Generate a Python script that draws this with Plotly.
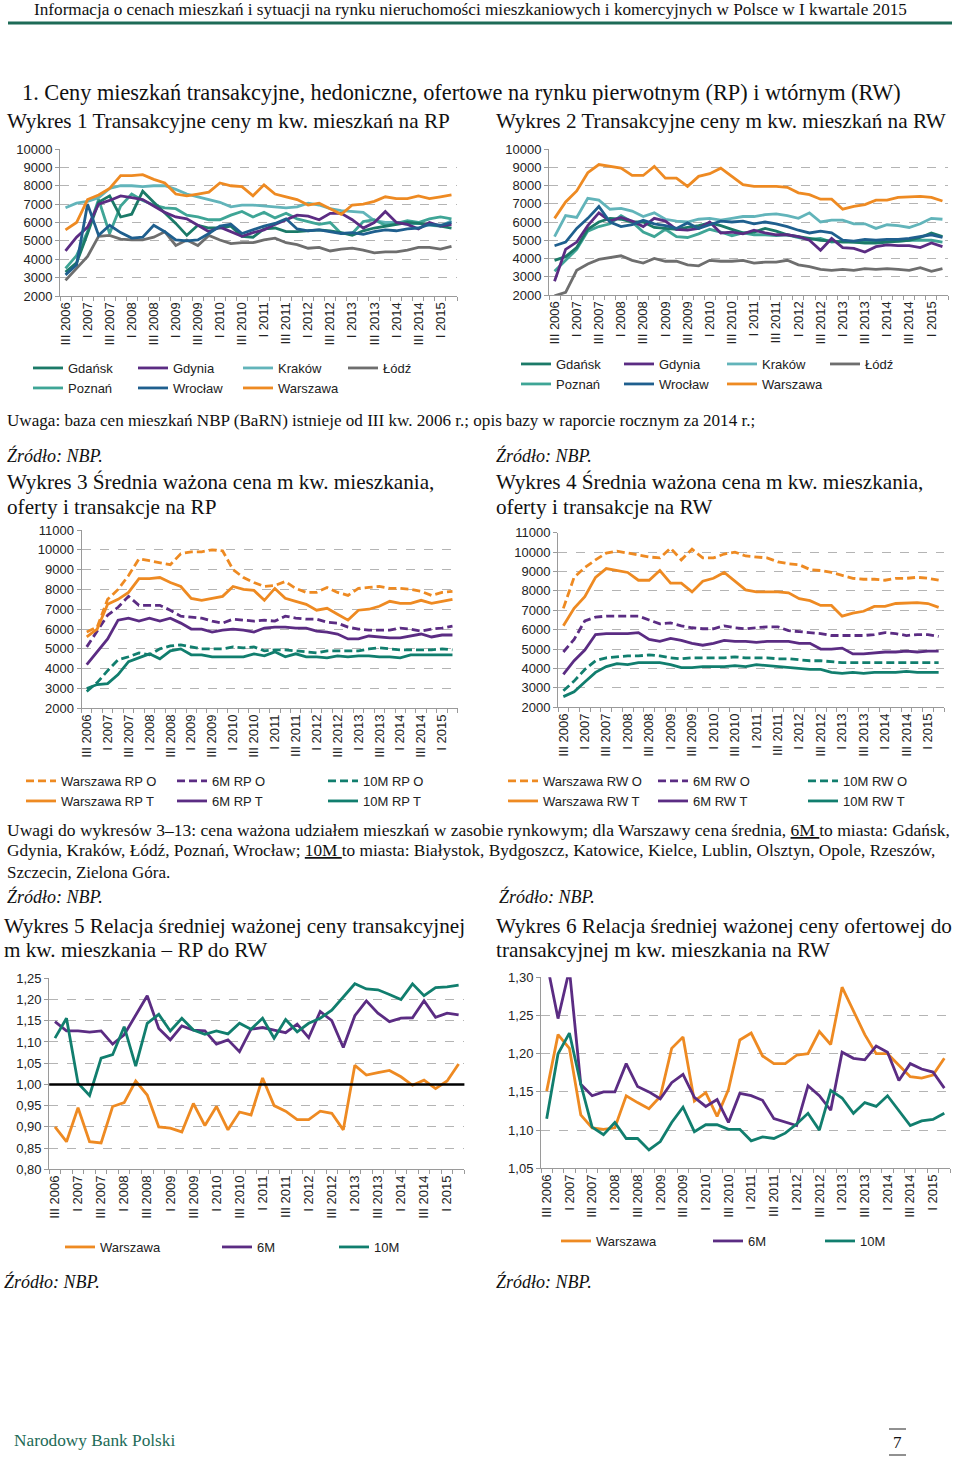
import plotly.graph_objects as go

W, H = 960, 1457

# ---------------- DATA ----------------
quarters = ["III 2006", "IV 2006",
            "I 2007", "II 2007", "III 2007", "IV 2007",
            "I 2008", "II 2008", "III 2008", "IV 2008",
            "I 2009", "II 2009", "III 2009", "IV 2009",
            "I 2010", "II 2010", "III 2010", "IV 2010",
            "I 2011", "II 2011", "III 2011", "IV 2011",
            "I 2012", "II 2012", "III 2012", "IV 2012",
            "I 2013", "II 2013", "III 2013", "IV 2013",
            "I 2014", "II 2014", "III 2014", "IV 2014",
            "I 2015", "II 2015"]
tick_labels = ["III 2006", "I 2007", "III 2007", "I 2008", "III 2008", "I 2009",
               "III 2009", "I 2010", "III 2010", "I 2011", "III 2011", "I 2012",
               "III 2012", "I 2013", "III 2013", "I 2014", "III 2014", "I 2015"]

# Wykres 1 - transaction prices, primary market (RP)
rp_gdansk = [3300, 3800, 5400, 7100, 7450, 6300, 6450, 7700, 7100, 6550, 5950, 5300,
             5850, 5700, 5700, 5800, 5250, 5200, 5650, 5700, 5500, 5500, 5550, 5600,
             5550, 5450, 5300, 5550, 5700, 5800, 5900, 6000, 5950, 5900, 5800, 5700]
rp_gdynia = [4450, 5200, 5750, 7000, 7200, 7450, 7350, 7250, 6900, 6550, 6300, 6200,
             5850, 5500, 5750, 5500, 5250, 5450, 5600, 5900, 6150, 6400, 6350, 6150,
             6500, 6500, 6150, 5700, 6000, 6600, 6000, 5900, 5650, 6000, 5800, 5900]
rp_krakow = [6800, 7050, 7150, 7350, 7850, 8000, 8000, 7950, 8000, 8000, 7800, 7550,
             7400, 7250, 7100, 6850, 6950, 6950, 6900, 6850, 6800, 6850, 7050, 6950,
             6750, 6650, 6600, 6550, 6100, 6000, 6000, 5900, 5950, 5850, 5800, 6100]
rp_lodz = [2850, 3500, 4150, 5250, 5300, 5100, 5050, 5050, 5200, 5500, 4750, 5050,
           4750, 5300, 5050, 4850, 4900, 4900, 5050, 5150, 4900, 4800, 4600, 4650,
           4450, 4550, 4600, 4500, 4350, 4400, 4400, 4500, 4650, 4650, 4550, 4700]
rp_poznan = [3500, 4200, 5500, 7250, 5400, 6900, 7550, 7200, 6950, 6800, 6750, 6400,
             6300, 6150, 6150, 6400, 6600, 6300, 6550, 6250, 6500, 6200, 6050, 5900,
             6000, 5400, 5400, 6050, 6150, 5850, 5950, 6100, 6000, 6200, 6300, 6200]
rp_wroclaw = [3150, 3700, 7000, 5300, 5850, 5450, 5150, 5200, 5850, 5500, 5050, 5000,
              5050, 5400, 5800, 5900, 5400, 5600, 5800, 5950, 6200, 5650, 5550, 5600,
              5500, 5400, 5450, 5350, 5500, 5600, 5550, 5650, 5700, 5900, 5850, 6000]
rp_warszawa = [5600, 6000, 7250, 7500, 7850, 8550, 8550, 8600, 8350, 8150, 7550, 7450,
               7550, 7650, 8150, 8000, 7950, 7450, 8050, 7550, 7400, 7250, 6950, 7050,
               6750, 6450, 6950, 7000, 7150, 7400, 7300, 7300, 7450, 7300, 7400, 7500]

# Wykres 2 - transaction prices, secondary market (RW)
rw_gdansk = [3900, 4100, 4600, 5600, 6000, 6200, 6150, 6000, 6000, 5700, 5650, 5600,
             5700, 5800, 5950, 5800, 5600, 5400, 5450, 5650, 5500, 5300, 5200, 5100,
             5000, 4950, 4900, 4900, 4850, 4850, 4900, 4950, 5000, 5150, 5400, 5200]
rw_gdynia = [2750, 4500, 4900, 5800, 6500, 6050, 6250, 6050, 5750, 6200, 6050, 5600,
             5550, 5650, 6000, 5400, 5450, 5350, 5550, 5400, 5300, 5300, 5200, 5000,
             4450, 5100, 4600, 4550, 4350, 4650, 4750, 4700, 4700, 4600, 4850, 4650]
rw_krakow = [5200, 6350, 6250, 7300, 7200, 6700, 6750, 6600, 6300, 6500, 6150, 6050,
             6000, 6150, 6200, 6100, 6200, 6300, 6300, 6400, 6450, 6350, 6200, 6500,
             6000, 6100, 6100, 5900, 5900, 5650, 5850, 5800, 5700, 5900, 6200, 6150]
rw_lodz = [1950, 2150, 3350, 3700, 3950, 4050, 4150, 3900, 3750, 4000, 3850, 3850,
           3650, 3600, 3900, 3850, 3850, 3900, 3750, 3800, 3800, 3900, 3650, 3550,
           3400, 3350, 3400, 3350, 3450, 3400, 3450, 3400, 3350, 3500, 3300, 3450]
rw_poznan = [3300, 3900, 4500, 5500, 5750, 5900, 6350, 6000, 5450, 5200, 5600, 5200,
             5150, 5350, 5600, 5450, 5250, 5400, 5300, 5300, 5250, 5300, 5150, 5050,
             5100, 4900, 4950, 4900, 4900, 4900, 5000, 4950, 5000, 5000, 5000, 4900]
rw_wroclaw = [4700, 4900, 5650, 6200, 6850, 6000, 5750, 5850, 6100, 5900, 5800, 5650,
              5950, 5650, 5850, 6050, 6000, 6050, 5900, 6000, 5900, 5750, 5550, 5400,
              5500, 5400, 5000, 4950, 5050, 5000, 5050, 5050, 5100, 5200, 5300, 5150]
rw_warszawa = [6200, 7100, 7700, 8700, 9150, 9050, 8950, 8550, 8550, 9050, 8400, 8400,
               7950, 8500, 8650, 8950, 8500, 8050, 7950, 7950, 7950, 7900, 7600, 7500,
               7250, 7250, 6700, 6850, 6950, 7200, 7200, 7350, 7380, 7400, 7350, 7150]

# Wykres 3 - weighted average price, offers (O) and transactions (T), RP
rp_war_o = [5850, 6100, 7500, 8000, 8700, 9550, 9450, 9350, 9250, 9800, 9900, 9900,
            10000, 9950, 9000, 8600, 8350, 8150, 8200, 8400, 8050, 7850, 7850, 8100,
            7850, 7700, 8050, 8100, 8150, 8050, 8050, 8000, 7900, 7700, 7850, 7900]
rp_war_t = rp_warszawa
rp_6m_o = [5100, 5900, 6700, 7100, 7650, 7200, 7200, 7200, 6950, 6650, 6600, 6550,
           6400, 6300, 6500, 6450, 6400, 6450, 6400, 6650, 6550, 6500, 6500, 6350,
           6300, 6100, 6000, 5950, 5950, 5950, 6050, 6000, 5900, 6000, 6050, 6150]
rp_6m_t = [4200, 4850, 5500, 6450, 6550, 6400, 6550, 6400, 6550, 6300, 6000, 6000,
           5850, 5950, 6000, 5950, 5850, 6050, 6100, 6100, 6050, 6050, 5900, 5850,
           5750, 5500, 5500, 5650, 5600, 5550, 5550, 5650, 5750, 5600, 5700, 5700]
rp_10m_o = [2850, 3300, 3900, 4450, 4600, 4800, 4700, 5000, 5150, 5200, 5100, 5000,
            5000, 5000, 5100, 5050, 5100, 4900, 4950, 4950, 4900, 4850, 4800, 4900,
            4900, 4900, 4900, 5000, 5050, 5000, 4950, 4950, 4950, 4950, 5000, 4950]
rp_10m_t = [3000, 3200, 3250, 3700, 4350, 4550, 4750, 4500, 4900, 5000, 4700, 4700,
            4600, 4600, 4600, 4600, 4750, 4650, 4850, 4600, 4750, 4600, 4600, 4550,
            4650, 4600, 4650, 4650, 4600, 4600, 4550, 4700, 4700, 4700, 4700, 4700]

# Wykres 4 - weighted average price, offers (O) and transactions (T), RW
rw_war_o = [7100, 8700, 9200, 9600, 9950, 10050, 9950, 9850, 9750, 9700, 10200, 9600,
            10150, 9700, 9700, 9900, 10000, 9800, 9750, 9700, 9500, 9400, 9350, 9100,
            9050, 8950, 8800, 8650, 8600, 8600, 8550, 8650, 8650, 8700, 8650, 8550]
rw_war_t = rw_warszawa
rw_6m_o = [4850, 5500, 6450, 6650, 6700, 6700, 6700, 6700, 6500, 6300, 6350, 6200,
           6100, 6050, 6050, 6200, 6100, 6050, 6100, 6150, 6150, 5950, 5900, 5850,
           5800, 5700, 5700, 5700, 5700, 5750, 5850, 5800, 5700, 5750, 5750, 5650]
rw_6m_t = [3700, 4400, 4950, 5750, 5800, 5800, 5800, 5850, 5500, 5400, 5550, 5450,
           5300, 5200, 5300, 5450, 5400, 5400, 5350, 5400, 5400, 5400, 5300, 5300,
           5000, 5000, 5050, 4750, 4750, 4800, 4850, 4850, 4900, 4850, 4900, 4900]
rw_10m_o = [2850, 3350, 3950, 4400, 4550, 4600, 4650, 4650, 4700, 4650, 4550, 4500,
            4550, 4550, 4550, 4550, 4600, 4550, 4550, 4550, 4500, 4500, 4450, 4400,
            4400, 4350, 4300, 4300, 4300, 4300, 4300, 4300, 4300, 4280, 4280, 4300]
rw_10m_t = [2550, 2800, 3300, 3800, 4100, 4250, 4200, 4300, 4300, 4300, 4200, 4050,
            4050, 4100, 4100, 4100, 4150, 4100, 4200, 4150, 4100, 4050, 4000, 3950,
            3950, 3800, 3750, 3800, 3750, 3800, 3800, 3800, 3850, 3800, 3800, 3800]

# Wykres 5 - ratio of transaction price RP / RW
r5_warszawa = [0.900, 0.865, 0.945, 0.865, 0.862, 0.948, 0.957, 1.008, 0.975, 0.900,
               0.897, 0.888, 0.955, 0.903, 0.948, 0.893, 0.935, 0.928, 1.015, 0.950,
               0.937, 0.917, 0.917, 0.937, 0.932, 0.893, 1.045, 1.022, 1.028, 1.033,
               1.018, 0.998, 1.010, 0.990, 1.008, 1.048]
r5_6m = [1.148, 1.126, 1.126, 1.123, 1.126, 1.095, 1.117, 1.164, 1.209, 1.132,
         1.105, 1.138, 1.128, 1.126, 1.095, 1.105, 1.077, 1.130, 1.134, 1.128,
         1.122, 1.142, 1.110, 1.172, 1.150, 1.087, 1.162, 1.197, 1.168, 1.148,
         1.156, 1.157, 1.197, 1.158, 1.168, 1.164]
r5_10m = [1.109, 1.156, 1.003, 0.974, 1.062, 1.070, 1.136, 1.043, 1.144, 1.165,
          1.126, 1.156, 1.128, 1.118, 1.126, 1.119, 1.144, 1.130, 1.156, 1.109,
          1.153, 1.124, 1.144, 1.156, 1.175, 1.207, 1.237, 1.225, 1.223, 1.212,
          1.200, 1.237, 1.209, 1.228, 1.230, 1.234]
r5_reference = 1.0

# Wykres 6 - ratio of offer price to transaction price, RW
r6_warszawa = [1.151, 1.225, 1.207, 1.120, 1.103, 1.101, 1.103, 1.145, 1.136, 1.128,
               1.144, 1.207, 1.222, 1.138, 1.149, 1.118, 1.153, 1.218, 1.227, 1.197,
               1.187, 1.187, 1.198, 1.200, 1.229, 1.212, 1.287, 1.255, 1.225, 1.200,
               1.200, 1.185, 1.170, 1.168, 1.172, 1.194]
r6_6m = [1.320, 1.246, 1.310, 1.160, 1.145, 1.150, 1.150, 1.187, 1.157, 1.150,
         1.141, 1.162, 1.173, 1.143, 1.131, 1.140, 1.110, 1.148, 1.145, 1.139,
         1.115, 1.110, 1.106, 1.158, 1.145, 1.126, 1.202, 1.194, 1.192, 1.210,
         1.202, 1.165, 1.187, 1.180, 1.176, 1.155]
r6_10m = [1.115, 1.200, 1.227, 1.160, 1.104, 1.094, 1.110, 1.089, 1.089, 1.074,
          1.085, 1.110, 1.130, 1.098, 1.107, 1.107, 1.101, 1.101, 1.086, 1.091,
          1.089, 1.096, 1.108, 1.122, 1.100, 1.152, 1.142, 1.122, 1.136, 1.131,
          1.145, 1.125, 1.106, 1.112, 1.114, 1.122]

# ---------------- STYLE ----------------
C_WAR = "#EE8A22"
C_PUR = "#5B2C83"
C_GDA = "#1B7A68"
C_KRA = "#62B4BA"
C_LOD = "#6E6E6E"
C_POZ = "#3FA596"
C_WRO = "#1F5F8E"
C_10M = "#117E6E"
SANS = "Liberation Sans"
SERIF = "Liberation Serif"
LW = 2.8
DASH = "8px,4px"

idx = list(range(len(quarters)))
tickpos = [quarters.index(t) for t in tick_labels]


def px_x(p):
    return p / W


def px_y(p):
    return 1 - p / H


fig = go.Figure()

# chart domains in pixel coordinates (left, right, top, bottom)
charts = {
    1: (60, 457, 149, 296, [2000, 10000], 1000, "d"),
    2: (549, 948, 149, 295, [2000, 10000], 1000, "d"),
    3: (81.5, 457.7, 530, 708.3, [2000, 11000], 1000, "d"),
    4: (558, 944, 532.7, 707.3, [2000, 11000], 1000, "d"),
    5: (49.2, 464.4, 978.3, 1169.3, [0.80, 1.25], 0.05, ".2f"),
    6: (541, 950, 977.3, 1168.3, [1.05, 1.30], 0.05, ".2f"),
}

layout_axes = {}
for k, (l, r, t, b, yr, dt, fmt) in charts.items():
    xa = "xaxis" if k == 1 else f"xaxis{k}"
    ya = "yaxis" if k == 1 else f"yaxis{k}"
    layout_axes[xa] = dict(
        domain=[px_x(l), px_x(r)], anchor="y" if k == 1 else f"y{k}",
        range=[-0.5, len(quarters) - 0.5], showgrid=False, zeroline=False,
        showline=True, linecolor="#9A9A9A", linewidth=1,
        tickmode="array", tickvals=tickpos, ticktext=tick_labels,
        tickangle=-90, ticks="", tickfont=dict(family=SANS, size=13, color="#222"),
        minor=dict(tickmode="linear", tick0=-0.5, dtick=1, ticks="outside",
                   ticklen=4, tickcolor="#9A9A9A", showgrid=False),
        fixedrange=True,
    )
    layout_axes[ya] = dict(
        domain=[px_y(b), px_y(t)], anchor="x" if k == 1 else f"x{k}",
        range=yr, dtick=dt, tick0=yr[0], tickformat=fmt,
        showgrid=True, gridcolor="#B4B4B4", griddash="dash", gridwidth=1,
        zeroline=False, showline=True, linecolor="#9A9A9A", linewidth=1,
        ticks="outside", ticklen=4, tickcolor="#9A9A9A",
        tickfont=dict(family=SANS, size=13, color="#222"), fixedrange=True,
    )


def add(k, y, name, color, legend, rank, dash=None):
    fig.add_trace(go.Scatter(
        x=idx, y=y, name=name, mode="lines",
        line=dict(color=color, width=LW, dash=dash),
        xaxis="x" if k == 1 else f"x{k}", yaxis="y" if k == 1 else f"y{k}",
        legend=legend, legendrank=rank, hoverinfo="skip"))


# Wykres 1
add(1, rp_lodz, "Łódź", C_LOD, "legend", 4)
add(1, rp_krakow, "Kraków", C_KRA, "legend", 3)
add(1, rp_poznan, "Poznań", C_POZ, "legend2", 5)
add(1, rp_gdansk, "Gdańsk", C_GDA, "legend", 1)
add(1, rp_gdynia, "Gdynia", C_PUR, "legend", 2)
add(1, rp_wroclaw, "Wrocław", C_WRO, "legend2", 6)
add(1, rp_warszawa, "Warszawa", C_WAR, "legend2", 7)
# Wykres 2
add(2, rw_lodz, "Łódź", C_LOD, "legend3", 4)
add(2, rw_krakow, "Kraków", C_KRA, "legend3", 3)
add(2, rw_poznan, "Poznań", C_POZ, "legend4", 5)
add(2, rw_gdansk, "Gdańsk", C_GDA, "legend3", 1)
add(2, rw_gdynia, "Gdynia", C_PUR, "legend3", 2)
add(2, rw_wroclaw, "Wrocław", C_WRO, "legend4", 6)
add(2, rw_warszawa, "Warszawa", C_WAR, "legend4", 7)
# Wykres 3
add(3, rp_war_o, "Warszawa RP O", C_WAR, "legend5", 1, DASH)
add(3, rp_6m_o, "6M RP O", C_PUR, "legend5", 2, DASH)
add(3, rp_10m_o, "10M RP O", C_10M, "legend5", 3, DASH)
add(3, rp_war_t, "Warszawa RP T", C_WAR, "legend6", 4)
add(3, rp_6m_t, "6M RP T", C_PUR, "legend6", 5)
add(3, rp_10m_t, "10M RP T", C_10M, "legend6", 6)
# Wykres 4
add(4, rw_war_o, "Warszawa RW O", C_WAR, "legend7", 1, DASH)
add(4, rw_6m_o, "6M RW O", C_PUR, "legend7", 2, DASH)
add(4, rw_10m_o, "10M RW O", C_10M, "legend7", 3, DASH)
add(4, rw_war_t, "Warszawa RW T", C_WAR, "legend8", 4)
add(4, rw_6m_t, "6M RW T", C_PUR, "legend8", 5)
add(4, rw_10m_t, "10M RW T", C_10M, "legend8", 6)
# Wykres 5
add(5, r5_warszawa, "Warszawa", C_WAR, "legend9", 1)
add(5, r5_6m, "6M", C_PUR, "legend10", 2)
add(5, r5_10m, "10M", C_10M, "legend11", 3)
# Wykres 6
add(6, r6_warszawa, "Warszawa", C_WAR, "legend12", 1)
add(6, r6_6m, "6M", C_PUR, "legend13", 2)
add(6, r6_10m, "10M", C_10M, "legend14", 3)


def leg(x, y, ew=0):
    d = dict(orientation="h", x=px_x(x), y=px_y(y), xanchor="left", yanchor="middle",
             bgcolor="rgba(0,0,0,0)", font=dict(family=SANS, size=13, color="#222"),
             traceorder="normal", itemclick=False, itemdoubleclick=False)
    if ew:
        d.update(entrywidth=ew, entrywidthmode="pixels")
    return d


legends = {
    "legend": leg(28, 368, 60),
    "legend2": leg(28, 388, 60),
    "legend3": leg(516, 364, 58),
    "legend4": leg(516, 384, 58),
    "legend5": leg(21, 781, 106),
    "legend6": leg(21, 801, 106),
    "legend7": leg(503, 781, 105),
    "legend8": leg(503, 801, 105),
    "legend9": leg(60, 1247),
    "legend10": leg(217, 1247),
    "legend11": leg(334, 1247),
    "legend12": leg(556, 1241),
    "legend13": leg(708, 1241),
    "legend14": leg(820, 1241),
}

annotations = []


def txt(x, y, s, size, italic=False, color="#111", anchor="left", family=SERIF):
    if italic:
        s = "<i>" + s + "</i>"
    annotations.append(dict(
        x=px_x(x), y=px_y(y), xref="paper", yref="paper", text=s, showarrow=False,
        xanchor=anchor, yanchor="middle", align="left",
        font=dict(family=family, size=size, color=color)))


T = 21.2
txt(470, 10, "Informacja o cenach mieszkań i sytuacji na rynku nieruchomości mieszkaniowych i komercyjnych w Polsce w I kwartale 2015", 17.2, anchor="center")
txt(20, 92, "1. Ceny mieszkań transakcyjne, hedoniczne, ofertowe na rynku pierwotnym (RP) i wtórnym (RW)", 22.3)
txt(5, 121, "Wykres 1 Transakcyjne ceny m kw. mieszkań na RP", T)
txt(494, 121, "Wykres 2 Transakcyjne ceny m kw. mieszkań na RW", T)
txt(5, 420, "Uwaga: baza cen mieszkań NBP (BaRN) istnieje od III kw. 2006 r.; opis bazy w raporcie rocznym za 2014 r.;", 17.1)
txt(5, 455, "Źródło: NBP.", 18, italic=True)
txt(494, 455, "Źródło: NBP.", 18, italic=True)
txt(5, 482, "Wykres 3 Średnia ważona cena m kw. mieszkania,", T)
txt(5, 507, "oferty i transakcje na RP", T)
txt(494, 482, "Wykres 4 Średnia ważona cena m kw. mieszkania,", T)
txt(494, 507, "oferty i transakcje na RW", T)
txt(5, 830, "Uwagi do wykresów 3–13: cena ważona udziałem mieszkań w zasobie rynkowym; dla Warszawy cena średnia, <u>6M </u>to miasta: Gdańsk,", 17.5)
txt(5, 851, "Gdynia, Kraków, Łódź, Poznań, Wrocław; <u>10M </u>to miasta: Białystok, Bydgoszcz, Katowice, Kielce, Lublin, Olsztyn, Opole, Rzeszów,", 17.3)
txt(5, 872, "Szczecin, Zielona Góra.", 17)
txt(5, 896, "Źródło: NBP.", 18, italic=True)
txt(497, 896, "Źródło: NBP.", 18, italic=True)
txt(2, 926, "Wykres 5 Relacja średniej ważonej ceny transakcyjnej", T)
txt(2, 950, "m kw. mieszkania – RP do RW", T)
txt(494, 926, "Wykres 6 Relacja średniej ważonej ceny ofertowej do", T)
txt(494, 950, "transakcyjnej m kw. mieszkania na RW", T)
txt(2, 1281, "Źródło: NBP.", 18, italic=True)
txt(494, 1281, "Źródło: NBP.", 18, italic=True)
txt(12, 1440, "Narodowy Bank Polski", 17.3, color="#1D6B57")
txt(897, 1442, "7", 17, anchor="center")

shapes = [
    dict(type="line", xref="paper", yref="paper", x0=px_x(8), x1=px_x(952),
         y0=px_y(23), y1=px_y(23), line=dict(color="#1D6B57", width=3)),
    dict(type="line", xref="x5 domain", yref="y5", x0=0, x1=1,
         y0=r5_reference, y1=r5_reference, line=dict(color="#000000", width=2.5)),
    dict(type="line", xref="paper", yref="paper", x0=px_x(889), x1=px_x(906),
         y0=px_y(1429), y1=px_y(1429), line=dict(color="#222", width=1)),
    dict(type="line", xref="paper", yref="paper", x0=px_x(889), x1=px_x(906),
         y0=px_y(1455), y1=px_y(1455), line=dict(color="#222", width=1)),
]

fig.update_layout(
    width=W, height=H, margin=dict(l=0, r=0, t=0, b=0, autoexpand=False),
    paper_bgcolor="white", plot_bgcolor="white",
    separators=",.", showlegend=True,
    annotations=annotations, shapes=shapes,
    **layout_axes, **legends,
)

fig.write_html("out.html", config={"displayModeBar": False},
               post_script="document.body.style.margin='0';document.body.style.overflow='hidden';")
